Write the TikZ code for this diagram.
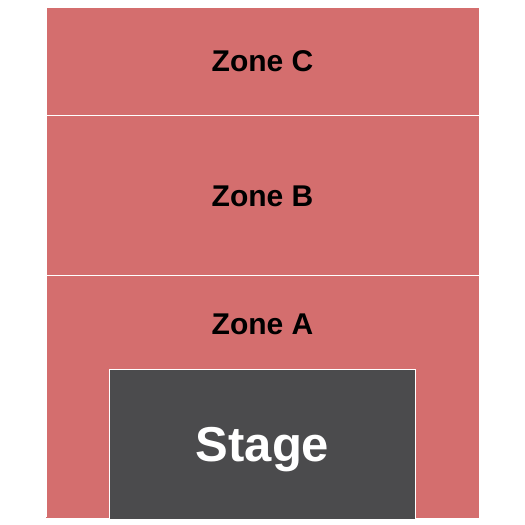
\documentclass[tikz,border=0pt]{standalone}
\usepackage{fontspec}
\setmainfont{Liberation Sans}
\usepackage{tikz}
\definecolor{zonered}{HTML}{D46E6E}
\definecolor{stagegray}{HTML}{4B4B4D}
\tikzstyle{zone}=[fill=zonered, draw=white, line width=0.8pt]
\tikzstyle{stagebox}=[fill=stagegray, draw=white, line width=1pt]
\tikzstyle{zonelabel}=[anchor=base, font=\bfseries\fontsize{30}{32}\selectfont, text=black]
\tikzstyle{stagelabel}=[anchor=base, font=\bfseries\fontsize{49}{53}\selectfont, text=white]

\begin{document}
\begin{tikzpicture}[x=1pt,y=-1pt]
    \useasboundingbox (0,0) rectangle (525,525);
    % the three zones, back to front
    \path[zone] (46,7)   rectangle (479,115);
    \path[zone] (46,115) rectangle (479,275);
    \path[zone] (46,275) rectangle (479,518);
    \fill[zonered] (46,517) rectangle (479,518);
    % stage at the bottom
    \path[stagebox] (109,369) rectangle (415,519);
    % labels
    \node (zone_c) [zonelabel]  at (262.5,71.5)  {Zone C};
    \node (zone_b) [zonelabel]  at (262.5,206.5) {Zone B};
    \node (zone_a) [zonelabel]  at (262.5,334.5) {Zone A};
    \node (stage)  [stagelabel] at (262.5,461.5) {Stage};
\end{tikzpicture}
\end{document}
